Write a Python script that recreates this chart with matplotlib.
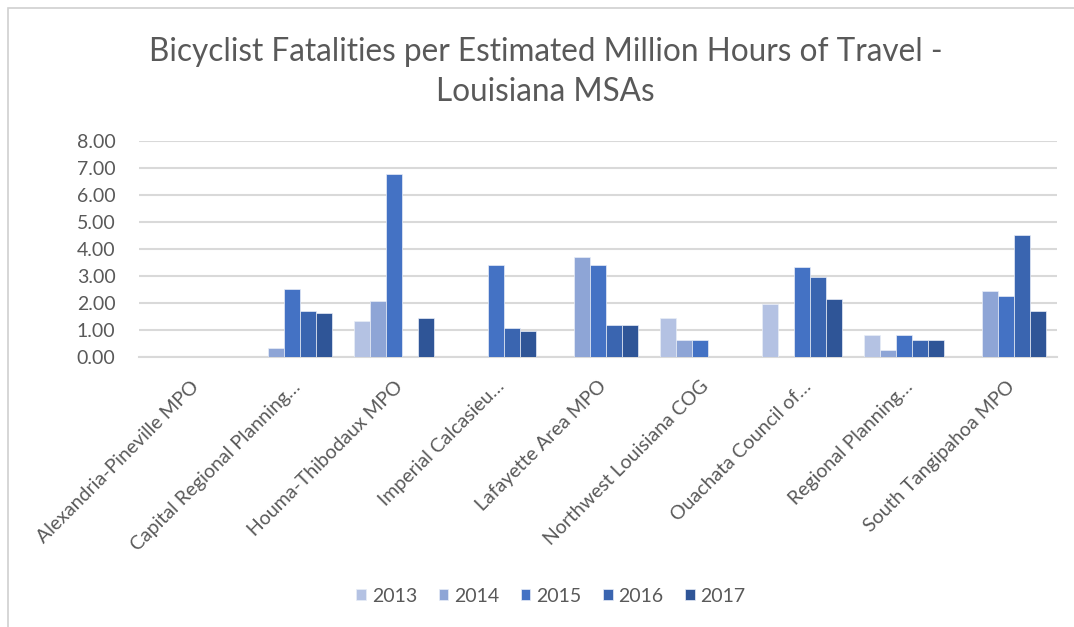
import matplotlib
matplotlib.use("Agg")
import matplotlib.pyplot as plt
import numpy as np
from matplotlib import font_manager
from matplotlib.patches import Rectangle

names = {f.name for f in font_manager.fontManager.ttflist}
fam = "Liberation Sans Narrow" if "Liberation Sans Narrow" in names else "Lato"
plt.rcParams['font.family'] = [fam, 'DejaVu Sans']

categories = ["Alexandria-Pineville MPO", "Capital Regional Planning…", "Houma-Thibodaux MPO",
              "Imperial Calcasieu…", "Lafayette Area MPO", "Northwest Louisiana COG",
              "Ouachata Council of…", "Regional Planning…", "South Tangipahoa MPO"]
years = ["2013", "2014", "2015", "2016", "2017"]
v2013 = [0, 0, 1.33, 0, 0, 1.43, 1.97, 0.80, 0]
v2014 = [0, 0.35, 2.06, 0, 3.70, 0.62, 0, 0.26, 2.44]
v2015 = [0, 2.51, 6.76, 3.42, 3.42, 0.62, 3.34, 0.80, 2.26]
v2016 = [0, 1.69, 0, 1.06, 1.17, 0, 2.97, 0.62, 4.50]
v2017 = [0, 1.62, 1.43, 0.98, 1.17, 0, 2.16, 0.62, 1.72]
series = [v2013, v2014, v2015, v2016, v2017]
colors = ["#b4c2e3", "#8ea5d6", "#4472c4", "#3a65b0", "#2f5597"]

fig = plt.figure(figsize=(10.74, 6.27), dpi=100)
fig.patches.append(Rectangle((8/1074, -0.1), 1.2, 1 - 8/627 + 0.1, transform=fig.transFigure,
                             fill=False, edgecolor="#d0d0d0", linewidth=1.2))
ax = fig.add_axes([139/1074, 1 - 357/627, 918/1074, 216/627])

x = np.arange(len(categories))
w = 0.157
for i, (vals, c, yr) in enumerate(zip(series, colors, years)):
    ax.bar(x + (i - 2) * w, vals, width=w, color=c, label=yr,
           edgecolor="#e8edf7", linewidth=0.5, zorder=3)

ax.set_xlim(-0.5, len(categories) - 0.5)
ax.set_ylim(0, 8)
ax.set_yticks(np.arange(0, 9, 1))
ax.set_yticklabels([f"{v:.2f}" for v in np.arange(0, 9, 1)], fontsize=14, color="#595959")
ax.yaxis.grid(True, color="#d9d9d9", linewidth=1.5, zorder=0)
ax.set_xticks(x)
ax.set_xticklabels(categories, rotation=45, ha="right", rotation_mode="anchor",
                   fontsize=14, color="#595959")
ax.tick_params(axis="x", length=0, pad=15)
ax.tick_params(axis="y", length=0, pad=17)
for s in ["top", "right", "left"]:
    ax.spines[s].set_visible(False)
ax.spines["bottom"].set_color("#d9d9d9")
ax.spines["bottom"].set_linewidth(1.5)

fig.text(0.508, 1 - 52/627, "Bicyclist Fatalities per Estimated Million Hours of Travel -",
         ha="center", va="center", fontsize=22.7, color="#595959")
fig.text(0.508, 1 - 92/627, "Louisiana MSAs",
         ha="center", va="center", fontsize=22.7, color="#595959")

leg = fig.legend(loc="center", bbox_to_anchor=(0.513, 1 - 596/627), ncol=5, frameon=False,
                 fontsize=14, handlelength=0.5, handleheight=0.5, columnspacing=1.1,
                 handletextpad=0.3)
for t in leg.get_texts():
    t.set_color("#595959")

fig.savefig("out.png", dpi=100)
